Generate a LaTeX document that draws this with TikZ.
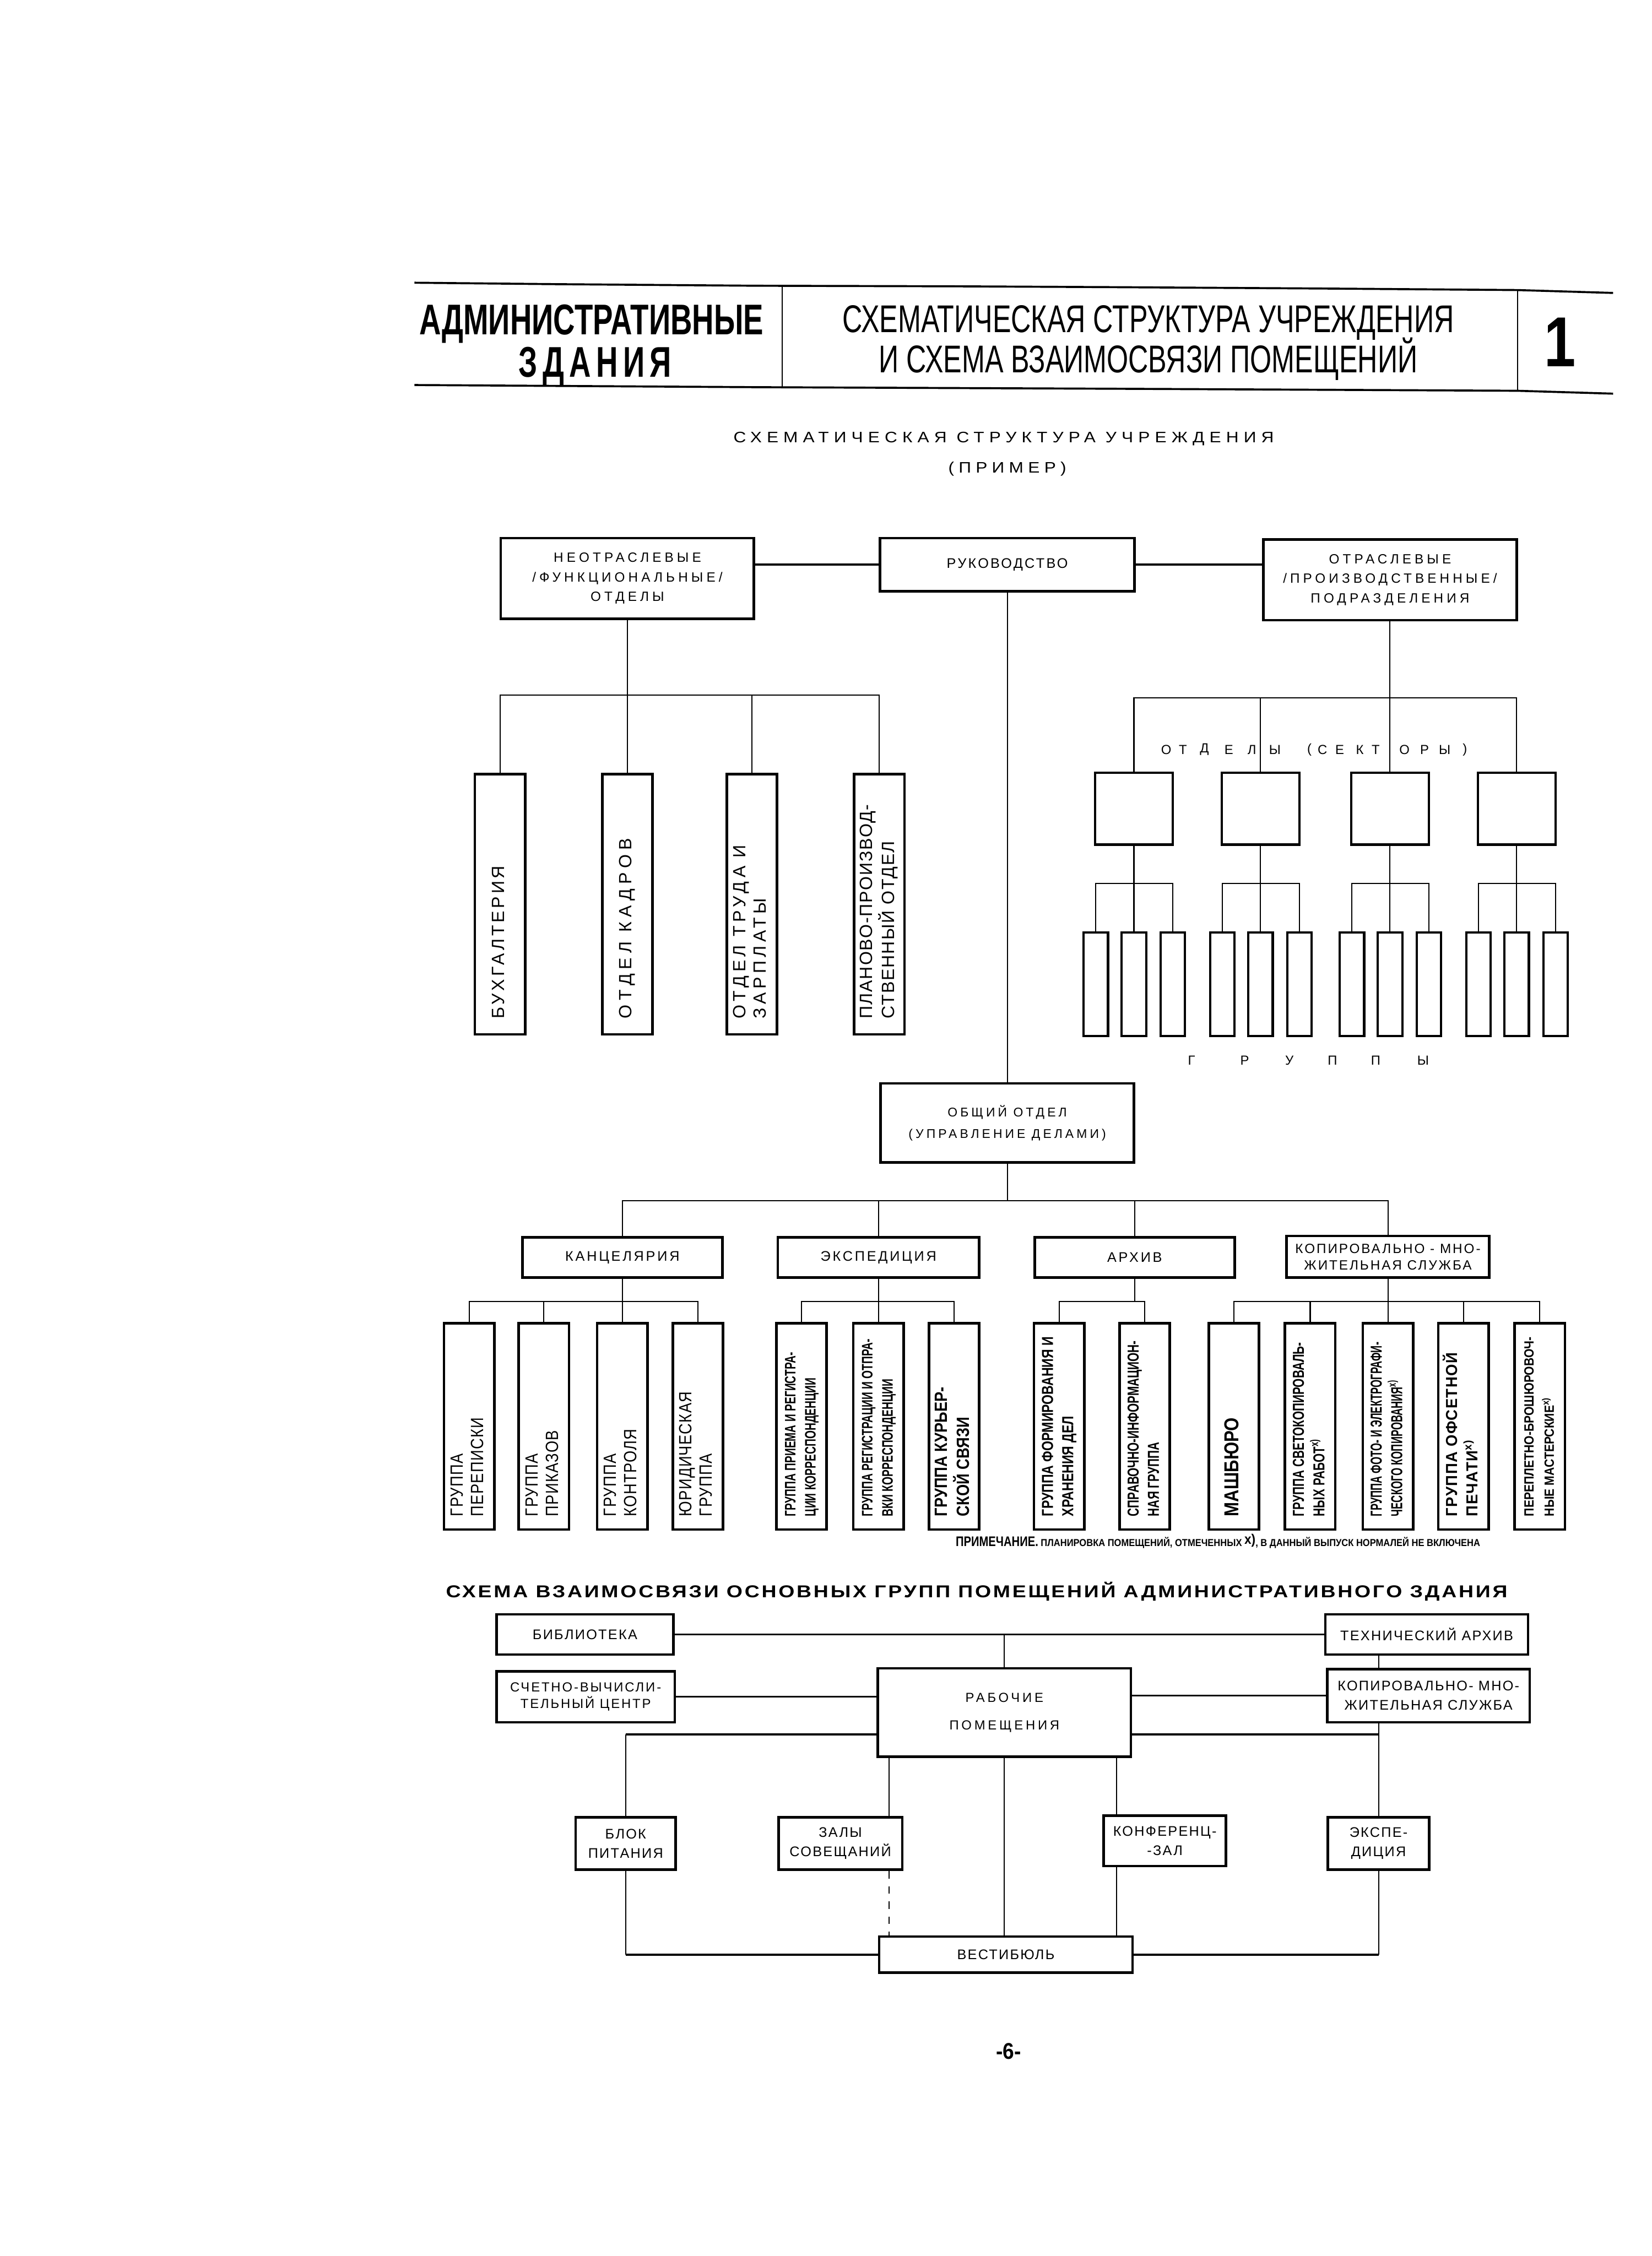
\documentclass[tikz,border=0pt]{standalone}
\usepackage{fontspec}
\setmainfont{Liberation Sans}
\usepackage{graphicx}
\usepackage{tikz}
\newlength{\gu}
\setlength{\gu}{0.2mm}
% size, baselineskip, stretch, letter spacing
\newcommand{\lett}[4]{\fontsize{#1}{#2}\selectfont\addfontfeatures{FakeStretch=#3,LetterSpace=#4}}
% rotated label, read from bottom to top
\newcommand{\vlbl}[3]{\rotatebox{90}{\makebox[#1\gu][l]{#2\begin{tabular}{@{}l@{}}#3\end{tabular}}}}

\begin{document}
\begin{tikzpicture}[x=0.02cm, y=-0.02cm,
  box/.style={draw, line width=1pt, inner sep=0pt, align=center},
  sz/.style 2 args={minimum width=#1*\gu, minimum height=#2*\gu},
  tallbox/.style={box, sz={35}{181}},
  lowbox/.style={box, sz={35}{143.3}},
  secbox/.style={box, sz={54}{50}},
  grpbox/.style={box, line width=0.9pt, sz={17}{72}},
  wire/.style={line width=0.45pt},
  heavy/.style={line width=0.8pt},
  hdrule/.style={line width=0.8pt},
  spaced/.style={font=\lett{5.3}{7.7}{1}{25}},
  plate/.style={font=\lett{5.5}{7.6}{1}{9}},
  letter/.style={font=\lett{5.2}{6}{1}{0}, inner sep=0pt},
]
\useasboundingbox (0,0) rectangle (1148,1568);

% ---------- page header ----------
\draw[hdrule] (288,196.5) -- (386,197.5) -- (525,198.6) -- (664,199) -- (776,199.6) -- (915,200.5) -- (1054.5,201.6) -- (1121,203.6);
\draw[hdrule] (288,267.6) -- (525,269.1) -- (776,270.2) -- (1054.5,271.6) -- (1121,273.6);
\draw[wire] (543.5,198.7) -- (543.5,269.2);
\draw[wire] (1054.5,201.6) -- (1054.5,271.6);
\node[font=\bfseries\lett{17}{18}{0.7}{0}, anchor=base, inner sep=0pt] (hdl1) at (411,232.5) {АДМИНИСТРАТИВНЫЕ};
\node[font=\bfseries\lett{17}{18}{0.7}{12}, anchor=base, inner sep=0pt] (hdl2) at (413.6,262) {ЗДАНИЯ};
\node[font=\lett{15.3}{16}{0.716}{0}, anchor=base, inner sep=0pt] (hdm1) at (798,231) {СХЕМАТИЧЕСКАЯ СТРУКТУРА УЧРЕЖДЕНИЯ};
\node[font=\lett{15.3}{16}{0.716}{0}, anchor=base, inner sep=0pt] (hdm2) at (798,259) {И СХЕМА ВЗАИМОСВЯЗИ ПОМЕЩЕНИЙ};
\node[font=\bfseries\lett{28}{28}{0.8}{0}] (hdno) at (1084,238) {1};

% ---------- structure title ----------
\node[font=\lett{6}{7}{1.15}{33}] (sub) at (697.5,305) {СХЕМАТИЧЕСКАЯ СТРУКТУРА УЧРЕЖДЕНИЯ};
\node[font=\lett{6}{7}{1.15}{30}] (subex) at (700,326) {(ПРИМЕР)};

% ---------- top level ----------
\node[box, spaced, sz={176}{56}] (neo) at (436,402) {НЕОТРАСЛЕВЫЕ\\/ФУНКЦИОНАЛЬНЫЕ/\\ОТДЕЛЫ};
\node[box, sz={177}{37}, font=\lett{5.5}{7}{1}{13}] (ruk) at (700,392.5) {РУКОВОДСТВО};
\node[box, spaced, sz={176}{56}] (otr) at (966,403) {ОТРАСЛЕВЫЕ\\/ПРОИЗВОДСТВЕННЫЕ/\\ПОДРАЗДЕЛЕНИЯ};
\draw[heavy] (ruk.west) -- (ruk.west -| neo.east);
\draw[heavy] (ruk.east) -- (ruk.east -| otr.west);

% ---------- functional departments ----------
\coordinate (lbus) at (0,483);
\node[tallbox] (buh) at (347.5,628.5) {\vlbl{159}{\lett{7}{8}{1}{15}}{БУХГАЛТЕРИЯ}};
\node[tallbox] (kadr) at (436,628.5) {\vlbl{159}{\lett{7}{8}{1}{25}}{ОТДЕЛ КАДРОВ}};
\node[tallbox] (trud) at (522.5,628.5) {\vlbl{159}{\lett{7}{8}{1}{20}}{ОТДЕЛ ТРУДА И\\ЗАРПЛАТЫ}};
\node[tallbox] (plan) at (611,628.5) {\vlbl{159}{\lett{7}{8}{1}{6}}{ПЛАНОВО-ПРОИЗВОД-\\СТВЕННЫЙ ОТДЕЛ}};
\foreach \n in {buh,kadr,trud,plan}
  \draw[wire] (neo.south) |- (\n.north |- lbus) -- (\n.north);

% ---------- branch departments, sectors and groups ----------
\coordinate (rbus) at (0,485);
\coordinate (gbus) at (0,614);
\foreach \sn/\cx in {1/788,2/876,3/966,4/1054} {
  \node[secbox] (sec\sn) at (\cx,562) {};
  \draw[wire] (otr.south) |- (sec\sn.north |- rbus) -- (sec\sn.north);
  \foreach \gn/\dx in {1/-26.5,2/0,3/27} {
    \node[grpbox] (grp\sn\gn) at ({\cx+(\dx)},684) {};
    \draw[wire] (sec\sn.south) |- (grp\sn\gn.north |- gbus) -- (grp\sn\gn.north);
  }
}
\foreach \lx/\lc [count=\i] in {810.5/О,822/Т,837/Д,854/Е,870/Л,886/Ы,910/(,919/С,931/Е,945/К,956/Т,976/О,990/Р,1004/Ы,1018/)}
  \node[letter] (lt\i) at (\lx,521) {\lc};
\foreach \lx/\lc [count=\i] in {828/Г,865/Р,896/У,926/П,956/П,989/Ы}
  \node[letter] (gl\i) at (\lx,737) {\lc};

% ---------- general department ----------
\node[box, sz={176}{55}, font=\lett{5}{8.5}{1}{22}] (obsh) at (700,780.5) {ОБЩИЙ ОТДЕЛ\\(УПРАВЛЕНИЕ ДЕЛАМИ)};
\draw[wire] (ruk.south) -- (obsh.north);

\coordinate (obus) at (0,834.6);
\node[box, sz={139}{28}, font=\lett{5.5}{7}{1}{15}] (kanc) at (432.5,874) {КАНЦЕЛЯРИЯ};
\node[box, sz={140}{28}, font=\lett{5.5}{7}{1}{15}] (eksp) at (610.5,874) {ЭКСПЕДИЦИЯ};
\node[box, sz={139}{28}, font=\lett{5.5}{7}{1}{15}] (arh) at (788.5,874) {АРХИВ};
\node[box, sz={141}{29}, font=\lett{5.3}{6.6}{1}{12}] (kopA) at (964.5,873.5) {КОПИРОВАЛЬНО - МНО-\\ЖИТЕЛЬНАЯ СЛУЖБА};
\foreach \n in {kanc,eksp,arh,kopA}
  \draw[wire] (obsh.south) |- (\n.north |- obus) -- (\n.north);

% ---------- groups of the general department ----------
\coordinate (tbus) at (0,904.6);
\node[lowbox] (kp1) at (326,991.4) {\vlbl{125}{\lett{7}{8}{0.85}{4}}{ГРУППА\\ПЕРЕПИСКИ}};
\node[lowbox] (kp2) at (378,991.4) {\vlbl{125}{\lett{7}{8}{0.85}{4}}{ГРУППА\\ПРИКАЗОВ}};
\node[lowbox] (kp3) at (432.5,991.4) {\vlbl{125}{\lett{7}{8}{0.85}{4}}{ГРУППА\\КОНТРОЛЯ}};
\node[lowbox] (kp4) at (485,991.4) {\vlbl{125}{\lett{7}{8}{0.85}{4}}{ЮРИДИЧЕСКАЯ\\ГРУППА}};
\foreach \n in {kp1,kp2,kp3,kp4}
  \draw[wire] (kanc.south) |- (\n.north |- tbus) -- (\n.north);

\node[lowbox] (ek1) at (557,991.4) {\vlbl{125}{\bfseries\lett{6}{8}{0.7}{0}}{ГРУППА ПРИЕМА И РЕГИСТРА-\\ЦИИ КОРРЕСПОНДЕНЦИИ}};
\node[lowbox] (ek2) at (610.5,991.4) {\vlbl{125}{\bfseries\lett{6}{8}{0.7}{0}}{ГРУППА РЕГИСТРАЦИИ И ОТПРА-\\ВКИ КОРРЕСПОНДЕНЦИИ}};
\node[lowbox] (ek3) at (663,991.4) {\vlbl{125}{\bfseries\lett{7}{8}{0.85}{0}}{ГРУППА КУРЬЕР-\\СКОЙ СВЯЗИ}};
\foreach \n in {ek1,ek2,ek3}
  \draw[wire] (eksp.south) |- (\n.north |- tbus) -- (\n.north);

\node[lowbox] (ar1) at (736,991.4) {\vlbl{125}{\bfseries\lett{6.3}{8}{0.8}{0}}{ГРУППА ФОРМИРОВАНИЯ И\\ХРАНЕНИЯ ДЕЛ}};
\node[lowbox] (ar2) at (795.5,991.4) {\vlbl{125}{\bfseries\lett{6.3}{8}{0.72}{0}}{СПРАВОЧНО-ИНФОРМАЦИОН-\\НАЯ ГРУППА}};
\foreach \n in {ar1,ar2}
  \draw[wire] (arh.south) |- (\n.north |- tbus) -- (\n.north);

\node[lowbox] (km1) at (857.5,991.4) {\vlbl{125}{\bfseries\lett{8}{9}{0.85}{0}}{МАШБЮРО}};
\node[lowbox] (km2) at (910.5,991.4) {\vlbl{125}{\bfseries\lett{6.3}{8}{0.72}{0}}{ГРУППА СВЕТОКОПИРОВАЛЬ-\\НЫХ РАБОТ\textsuperscript{x)}}};
\node[lowbox] (km3) at (964.5,991.4) {\vlbl{125}{\bfseries\lett{6.3}{8}{0.63}{0}}{ГРУППА ФОТО- И ЭЛЕКТРОГРАФИ-\\ЧЕСКОГО КОПИРОВАНИЯ\textsuperscript{x)}}};
\node[lowbox] (km4) at (1017,991.4) {\vlbl{125}{\bfseries\lett{6.3}{8}{0.95}{5}}{ГРУППА ОФСЕТНОЙ\\ПЕЧАТИ\textsuperscript{x)}}};
\node[lowbox] (km5) at (1070,991.4) {\vlbl{125}{\bfseries\lett{5.3}{8}{0.87}{0}}{ПЕРЕПЛЕТНО-БРОШЮРОВОЧ-\\НЫЕ МАСТЕРСКИЕ\textsuperscript{x)}}};
\foreach \n in {km1,km2,km3,km4,km5}
  \draw[wire] (kopA.south) |- (\n.north |- tbus) -- (\n.north);

\node[font=\bfseries\lett{4}{5}{0.9}{0}, anchor=east, inner sep=0pt] (note) at (1029,1071)
  {{\lett{5.5}{6}{0.8}{0}ПРИМЕЧАНИЕ.} ПЛАНИРОВКА ПОМЕЩЕНИЙ, ОТМЕЧЕННЫХ {\lett{5.5}{6}{0.9}{0}\raisebox{0.3ex}{x)}}, В ДАННЫЙ ВЫПУСК НОРМАЛЕЙ НЕ ВКЛЮЧЕНА};

% ---------- room groups scheme ----------
\node[font=\bfseries\lett{6.8}{8}{1.2}{12}] (ttl) at (678.75,1106) {СХЕМА ВЗАИМОСВЯЗИ ОСНОВНЫХ ГРУПП ПОМЕЩЕНИЙ АДМИНИСТРАТИВНОГО ЗДАНИЯ};

\node[box, plate, sz={123}{28}] (lib) at (406.5,1136) {БИБЛИОТЕКА};
\node[box, plate, sz={141}{28}] (tech) at (991.5,1136) {ТЕХНИЧЕСКИЙ АРХИВ};
\node[box, sz={124}{35.5}, font=\lett{5.2}{6.7}{1}{12}] (calc) at (407,1179.3) {СЧЕТНО-ВЫЧИСЛИ-\\ТЕЛЬНЫЙ ЦЕНТР};
\node[box, sz={176}{61.5}, font=\lett{5.2}{11}{1}{20}] (rab) at (698,1190.3) {РАБОЧИЕ\\ПОМЕЩЕНИЯ};
\node[box, plate, sz={140.6}{37}] (kopB) at (992.7,1178.5) {КОПИРОВАЛЬНО- МНО-\\ЖИТЕЛЬНАЯ СЛУЖБА};
\node[box, plate, sz={69.5}{36.5}] (blok) at (434.8,1281.3) {БЛОК\\ПИТАНИЯ};
\node[box, plate, sz={86}{36.5}] (zaly) at (584,1281.3) {ЗАЛЫ\\СОВЕЩАНИЙ};
\node[box, plate, sz={85}{35}] (konf) at (809.5,1279.5) {КОНФЕРЕНЦ-\\-ЗАЛ};
\node[box, plate, sz={70.6}{36.5}] (eks) at (958,1281.3) {ЭКСПЕ-\\ДИЦИЯ};
\node[box, plate, sz={176}{25}] (vest) at (699,1358.5) {ВЕСТИБЮЛЬ};

\coordinate (rlow) at (0,1205.4);
\coordinate (zx) at (618,0);
\coordinate (kx) at (776,0);
\draw[heavy] (lib.east) -- (tech.west);
\draw[wire] (rab.north) -- (rab.north |- lib.east);
\draw[heavy] (calc.east) -- (calc.east -| rab.west);
\draw[heavy] (kopB.west) -- (kopB.west -| rab.east);
\draw[wire] (eks.north |- tech.south) -- (eks.north |- kopB.north);
\draw[wire] (eks.north |- kopB.south) -- (eks.north);
\draw[heavy] (rab.east |- rlow) -- (eks.north |- rlow);
\draw[heavy] (rab.west |- rlow) -- (blok.north |- rlow);
\draw[wire] (blok.north |- rlow) -- (blok.north);
\draw[wire] (rab.south -| zx) -- (zaly.north -| zx);
\draw[wire] (rab.south -| kx) -- (konf.north -| kx);
\draw[wire] (rab.south) -- (rab.south |- vest.north);
\draw[wire, dashed] (zaly.south -| zx) -- (vest.north -| zx);
\draw[wire] (konf.south -| kx) -- (vest.north -| kx);
\draw[wire] (blok.south) -- (blok.south |- vest.west);
\draw[heavy] (blok.south |- vest.west) -- (vest.west);
\draw[wire] (eks.south) -- (eks.south |- vest.east);
\draw[heavy] (eks.south |- vest.east) -- (vest.east);

\node[font=\bfseries\lett{9}{10}{0.9}{0}] (pg) at (701,1425.5) {-6-};
\end{tikzpicture}
\end{document}
